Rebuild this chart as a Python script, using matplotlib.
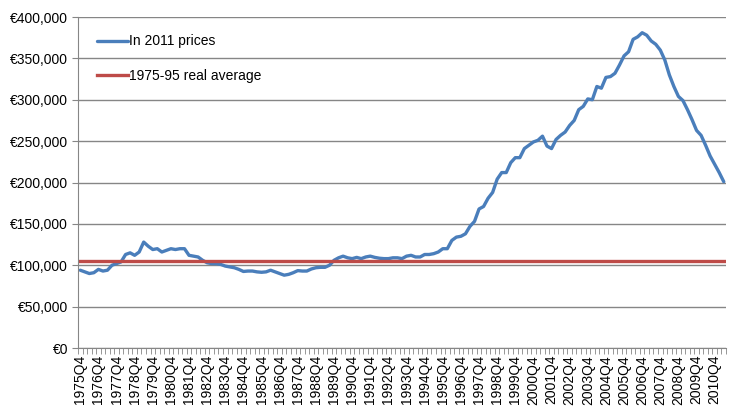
import matplotlib.pyplot as plt
from matplotlib.ticker import FuncFormatter, MultipleLocator
import numpy as np

plt.rcParams['font.family'] = ['Liberation Sans', 'DejaVu Sans']

# quarterly series, 1975Q4 .. 2011Q2, thousands of euro (2011 prices)
prices_k = [
    94, 92, 90, 91, 95, 93, 94, 100, 102, 104,
    113, 115, 112, 116, 128, 123, 119, 120, 116, 118,
    120, 119, 120, 120, 112, 111, 110, 106, 103, 102,
    102, 101, 99, 98, 97, 95, 92.5, 93, 93, 92,
    91.5, 92, 94, 92, 90, 88, 89, 91, 93.5, 93,
    93, 95.5, 97, 97.5, 97.5, 100, 106, 109, 111, 109,
    108, 109.5, 108, 110, 111, 109.5, 108.5, 108, 108, 109,
    109, 108, 111, 112, 110, 110, 113, 113, 114, 116,
    120, 120, 130, 134, 135, 138, 147, 153, 168, 171,
    181, 188, 204, 212, 212, 224, 230, 230, 241, 245,
    249, 251, 256, 244, 241, 252, 257, 261, 269, 275,
    288, 292, 301, 300, 316, 314, 327, 328, 332, 342,
    353, 358, 373, 376, 381, 378, 371, 367, 360, 348,
    330, 316, 304, 299, 288, 276, 263, 257, 245, 232,
    222, 212, 201,
]
real_avg = 105000

start_year, start_q = 1975, 4
quarters = []
y, q = start_year, start_q
for _ in prices_k:
    quarters.append(f"{y}Q{q}")
    q += 1
    if q > 4:
        q = 1
        y += 1

prices = np.array(prices_k) * 1000
x = np.arange(len(prices))

blue = '#4A7EBB'
red = '#BE4B48'
grid = '#868686'

fig = plt.figure(figsize=(7.41, 4.16), dpi=100)
ax = fig.add_axes([78 / 741, 1 - 348 / 416, 648 / 741, 331 / 416])

ax.plot(x, prices, color=blue, lw=2.4, label='In 2011 prices', solid_capstyle='round')
ax.plot(x, [real_avg] * len(x), color=red, lw=2.4, label='1975-95 real average')

ax.set_xlim(-0.5, len(x) - 0.5)
ax.set_ylim(0, 400000)
ax.yaxis.set_major_locator(MultipleLocator(50000))
ax.yaxis.set_major_formatter(FuncFormatter(lambda v, p: f"€{v:,.0f}"))
ax.grid(axis='y', color=grid, lw=1)
ax.set_axisbelow(True)

lab_idx = x[::4]
ax.set_xticks(lab_idx)
ax.set_xticklabels([quarters[i] for i in lab_idx], rotation=90, fontsize=10)
ax.set_xticks(np.arange(-0.5, len(x)), minor=True)
ax.tick_params(axis='x', which='major', length=0, pad=5)
ax.tick_params(axis='x', which='minor', length=4, color=grid, direction='out')
ax.tick_params(axis='y', length=4, color=grid, labelsize=10, pad=3)

for s in ['top', 'right']:
    ax.spines[s].set_visible(False)
for s in ['left', 'bottom']:
    ax.spines[s].set_color(grid)

ax.legend(loc='upper left', bbox_to_anchor=(0.01, 0.985), frameon=False,
          fontsize=10, labelspacing=1.5, handlelength=2.2, handletextpad=0.1)

fig.savefig('out.png', dpi=100)
